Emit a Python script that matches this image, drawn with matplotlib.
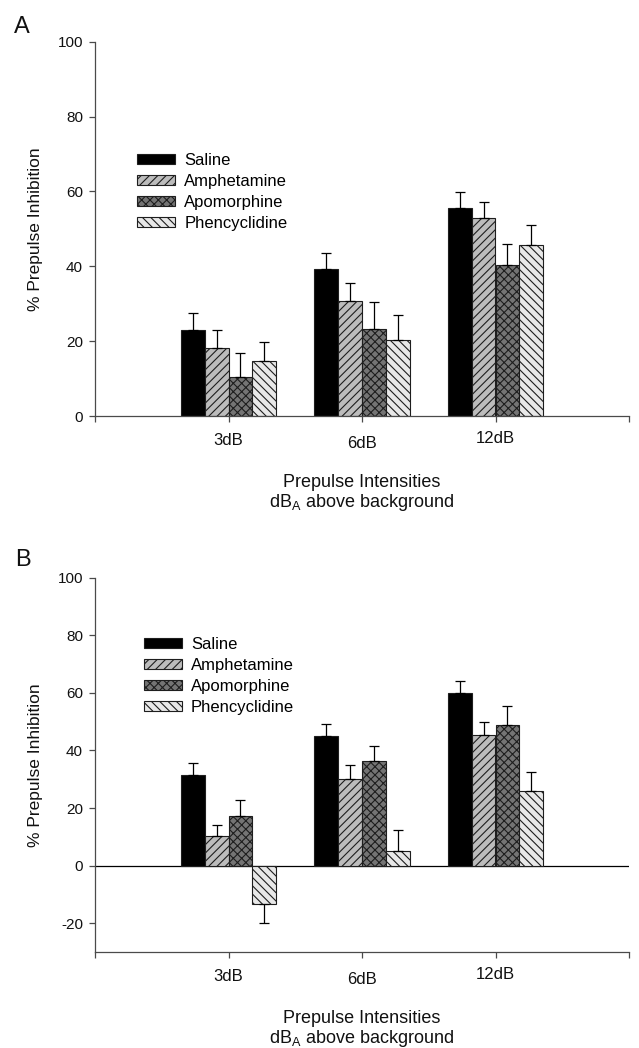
import matplotlib
matplotlib.use('Agg')
import matplotlib.pyplot as plt
import matplotlib.transforms as mtransforms
import numpy as np

plt.rcParams['font.family'] = ['Liberation Sans', 'DejaVu Sans']
plt.rcParams['hatch.linewidth'] = 0.8

# ---------------- data ----------------
categories = ['3dB', '6dB', '12dB']
groups = ['Saline', 'Amphetamine', 'Apomorphine', 'Phencyclidine']

A_saline = [23.0, 39.4, 55.5]
A_amphetamine = [18.3, 30.6, 52.8]
A_apomorphine = [10.3, 23.2, 40.4]
A_phencyclidine = [14.7, 20.4, 45.7]
A_saline_err = [4.4, 4.2, 4.4]
A_amphetamine_err = [4.8, 5.0, 4.5]
A_apomorphine_err = [6.5, 7.3, 5.6]
A_phencyclidine_err = [5.0, 6.5, 5.4]

B_saline = [31.6, 44.9, 59.8]
B_amphetamine = [10.3, 30.1, 45.5]
B_apomorphine = [17.2, 36.5, 48.7]
B_phencyclidine = [-13.2, 5.2, 25.8]
B_saline_err = [4.1, 4.3, 4.4]
B_amphetamine_err = [3.9, 4.9, 4.4]
B_apomorphine_err = [5.7, 5.1, 6.8]
B_phencyclidine_err = [6.8, 7.0, 6.7]

A_yticks = [0, 20, 40, 60, 80, 100]
B_yticks = [-20, 0, 20, 40, 60, 80, 100]

# ---------------- styles ----------------
facecolors = ['black', '#bcbcbc', '#747474', '#e8e8e8']
hatches = [None, '////', 'xxxx', '\\\\\\\\']
edge = '#1e1e1e'
axcol = '#4a4a4a'
bar_w = 0.178

fig = plt.figure(figsize=(6.39, 10.48), dpi=100)
axA = fig.add_axes([95/639, 1 - 416/1048, 534/639, 374.3/1048])
axB = fig.add_axes([95/639, 1 - 952/1048, 534/639, 374.3/1048])


def draw_panel(ax, means, errs, ylim, yticks, legend_anchor, zero_line):
    x = np.arange(len(categories))
    handles = []
    for i, (m, e) in enumerate(zip(means, errs)):
        m = np.asarray(m, float)
        e = np.asarray(e, float)
        pos = x + (i - 1.5) * bar_w
        bc = ax.bar(pos, m, width=bar_w, facecolor=facecolors[i], edgecolor=edge,
                    hatch=hatches[i], linewidth=0.8, zorder=2, label=groups[i])
        handles.append(bc)
        lower = np.where(m < 0, e, 0)
        upper = np.where(m >= 0, e, 0)
        ax.errorbar(pos, m, yerr=[lower, upper], fmt='none', ecolor='black',
                    elinewidth=0.9, capsize=3.6, capthick=0.9, zorder=3)
    ax.set_xlim(-1, 3)
    ax.set_ylim(*ylim)
    ax.set_yticks(yticks)
    ax.set_yticklabels([str(t) for t in yticks])
    ax.set_xticks([-1, 0, 1, 2, 3])
    ax.set_xticklabels([''] + categories + [''])
    for s in ['top', 'right']:
        ax.spines[s].set_visible(False)
    for s in ['left', 'bottom']:
        ax.spines[s].set_color(axcol)
        ax.spines[s].set_linewidth(0.9)
    ax.tick_params(axis='both', direction='out', length=4.2, width=0.9, color=axcol,
                   labelcolor='#111111')
    ax.tick_params(axis='x', pad=8, labelsize=12)
    ax.tick_params(axis='y', pad=4.5, labelsize=11)
    if zero_line:
        ax.axhline(0, color='black', linewidth=0.9, zorder=1.5)
    # slight staggering of category labels, as in the original
    offsets = [0, 0, -2.2, 1.6, 0]
    for tick, off in zip(ax.xaxis.get_major_ticks(), offsets):
        lab = tick.label1
        lab.set_transform(lab.get_transform() +
                          mtransforms.ScaledTranslation(0, off / 72, fig.dpi_scale_trans))
    ax.set_ylabel('% Prepulse Inhibition', fontsize=12.5, color='#111111')
    ax.yaxis.set_label_coords(-0.097, 0.5)
    ax.text(0.5, -0.178, 'Prepulse Intensities', transform=ax.transAxes,
            ha='center', va='center', fontsize=13, color='#111111')
    ax.text(0.5, -0.230, r'dB$_\mathregular{A}$ above background', transform=ax.transAxes,
            ha='center', va='center', fontsize=13, color='#111111')
    ax.legend(handles=handles, labels=groups, loc='upper left',
              bbox_to_anchor=legend_anchor, frameon=False, fontsize=12,
              handlelength=2.3, handleheight=0.6, handletextpad=0.55,
              labelspacing=0.36, borderpad=0, borderaxespad=0)


draw_panel(axA,
           [A_saline, A_amphetamine, A_apomorphine, A_phencyclidine],
           [A_saline_err, A_amphetamine_err, A_apomorphine_err, A_phencyclidine_err],
           (0, 100), A_yticks, (0.078, 0.703), False)
draw_panel(axB,
           [B_saline, B_amphetamine, B_apomorphine, B_phencyclidine],
           [B_saline_err, B_amphetamine_err, B_apomorphine_err, B_phencyclidine_err],
           (-30, 100), B_yticks, (0.091, 0.842), True)

fig.text(21.7/639, 1 - 26.7/1048, 'A', fontsize=17, ha='center', va='center', color='#111111')
fig.text(23/639, 1 - 560/1048, 'B', fontsize=17, ha='center', va='center', color='#111111')

fig.savefig('out.png', dpi=100)
